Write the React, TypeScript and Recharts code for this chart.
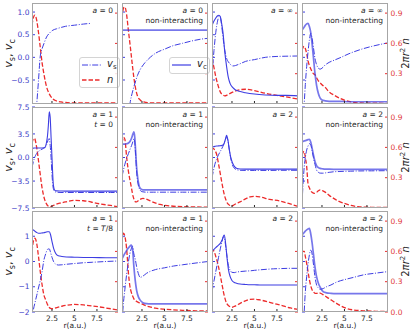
import React from 'react';
import { ComposedChart, Line, XAxis, YAxis, Legend } from 'recharts';

const BLUE = '#3d3de2';
const BLUE_TEXT = '#3c3cc8';
const RED = '#ec2b2b';
const RED_TEXT = '#e03a3a';
const SPINE = '#a6a6a6';
const INK = '#262626';
const FONT = '"DejaVu Sans", Verdana, sans-serif';

// ---- data (r in a.u.) ----

// row 1: a = 0 / a = inf
const r11 = [0.28, 0.45, 0.6, 0.8, 1.0, 1.2, 1.4, 1.6, 1.9, 2.2, 2.6, 3.0, 3.5, 4.0, 5.0, 6.0, 6.8, 8.0, 9.84];
const vs11 = [null, null, -1.6, -1.05, -0.52, 0.03, 0.19, 0.3, 0.45, 0.53, 0.6, 0.63, 0.66, 0.685, 0.71, 0.735, 0.75, null, null];
const n11 = [0.78, 0.86, 0.88, 0.83, 0.71, 0.56, 0.41, 0.3, 0.17, 0.1, 0.05, 0.03, 0.02, 0.015, 0.01, 0.01, 0.01, 0.01, 0.01];

const r12 = [0.28, 0.45, 0.6, 0.8, 1.0, 1.2, 1.4, 1.6, 1.8, 2.0, 2.3, 2.7, 3.2, 4.0, 5.0, 6.0, 7.0, 8.0, 9.0, 9.84];
const vs12 = [null, null, null, null, -1.3, -0.98, -0.8, -0.65, -0.52, -0.4, -0.27, -0.15, -0.04, 0.09, 0.18, 0.26, 0.31, 0.36, 0.4, 0.42];
const vc12 = [0.6, 0.6, 0.6, 0.6, 0.6, 0.6, 0.6, 0.6, 0.6, 0.6, 0.6, 0.6, 0.6, 0.6, 0.6, 0.6, 0.6, 0.6, 0.6, 0.6];
const n12 = [0.85, 0.95, 0.96, 0.88, 0.72, 0.57, 0.41, 0.26, 0.15, 0.08, 0.04, 0.02, 0.012, 0.01, 0.01, 0.01, 0.01, 0.01, 0.01, 0.01];

const r13 = [0.28, 0.5, 0.7, 0.9, 1.05, 1.2, 1.35, 1.5, 1.7, 1.9, 2.1, 2.3, 2.6, 2.9, 3.3, 4.0, 5.0, 6.2, 7.5, 8.5, 9.84];
const vs13 = [-0.4, 0.15, 0.55, 0.8, 0.9, 0.88, 0.7, 0.45, 0.16, -0.02, -0.1, -0.15, -0.19, -0.18, -0.15, -0.09, -0.05, 0.0, 0.02, 0.025, 0.03];
const vc13 = [0.7, 0.8, 0.87, 0.92, 0.93, 0.9, 0.75, 0.55, 0.12, -0.2, -0.45, -0.58, -0.67, -0.72, -0.75, -0.78, -0.81, -0.83, -0.84, -0.84, -0.85];
const n13 = [0.45, 0.36, 0.27, 0.2, 0.155, 0.12, 0.1, 0.09, 0.08, 0.085, 0.095, 0.105, 0.118, 0.13, 0.14, 0.146, 0.132, 0.106, 0.085, 0.07, 0.05];

const r14 = [0.28, 0.4, 0.53, 0.65, 0.8, 0.95, 1.1, 1.25, 1.4, 1.55, 1.72, 1.9, 2.1, 2.3, 2.5, 2.85, 3.3, 3.9, 4.5, 5.5, 6.9, 8.4, 9.84];
const vs14 = [null, -1.6, -1.02, -0.6, -0.2, 0.12, 0.38, 0.53, 0.42, 0.22, -0.02, -0.16, -0.24, -0.26, -0.24, -0.17, -0.11, -0.06, -0.01, 0.08, 0.18, 0.26, 0.32];
const vc14 = [0.6, 0.63, 0.67, 0.71, 0.74, 0.75, 0.68, 0.55, 0.3, 0.0, -0.35, -0.62, -0.8, -0.9, -0.94, -0.96, -0.97, -0.97, -0.97, -0.98, -0.98, -0.98, -0.98];
const n14 = [0.53, 0.56, 0.57, 0.55, 0.5, 0.43, 0.38, 0.35, 0.32, 0.3, 0.29, 0.26, 0.23, 0.21, 0.19, 0.165, 0.12, 0.085, 0.056, 0.025, 0.01, 0.008, 0.006];

// row 2: t = 0
const r21 = [0.28, 0.4, 0.55, 0.8, 1.1, 1.4, 1.7, 1.9, 2.0, 2.1, 2.2, 2.3, 2.4, 2.5, 2.65, 2.8, 3.0, 3.5, 4.0, 5.0, 6.0, 7.5, 9.0, 9.84];
const vs21 = [-1.5, -0.8, -0.1, 0.6, 1.0, 1.25, 1.45, 1.9, 2.3, 2.7, 2.8, 1.8, 0.0, -2.5, -4.6, -5.05, -5.15, -5.2, -5.2, -5.2, -5.2, -5.2, -5.2, -5.2];
const vc21 = [1.37, 1.38, 1.4, 1.4, 1.4, 1.42, 1.5, 2.3, 3.2, 4.8, 6.8, 6.0, 3.0, 0.0, -4.0, -4.85, -4.95, -4.98, -5.0, -5.0, -5.0, -5.0, -5.0, -5.0];
const n21 = [0.64, 0.68, 0.69, 0.6, 0.4, 0.2, 0.08, 0.04, 0.025, 0.018, 0.013, 0.013, 0.015, 0.018, 0.025, 0.03, 0.038, 0.05, 0.06, 0.075, 0.072, 0.046, 0.025, 0.013];

const r22 = [0.28, 0.45, 0.6, 0.8, 1.0, 1.2, 1.35, 1.5, 1.6, 1.7, 1.8, 1.9, 2.05, 2.2, 2.4, 2.6, 2.9, 3.3, 3.8, 4.5, 5.5, 7.0, 8.5, 9.84];
const vs22 = [-2.8, -1.8, -1.0, -0.1, 0.6, 1.3, 1.8, 2.4, 2.8, 2.2, 0.3, -2.0, -3.8, -4.6, -5.0, -5.1, -5.15, -5.15, -5.15, -5.15, -5.15, -5.15, -5.15, -5.15];
const vc22 = [2.0, 2.0, 2.0, 2.05, 2.15, 2.45, 2.9, 3.5, 3.8, 3.0, 0.8, -1.4, -3.3, -4.3, -4.7, -4.8, -4.82, -4.82, -4.82, -4.82, -4.82, -4.82, -4.82, -4.82];
const n22 = [0.64, 0.7, 0.68, 0.5, 0.36, 0.26, 0.19, 0.12, 0.09, 0.07, 0.06, 0.06, 0.07, 0.08, 0.09, 0.095, 0.09, 0.075, 0.055, 0.035, 0.022, 0.013, 0.01, 0.008];

const r23 = [0.28, 0.43, 0.6, 0.8, 1.0, 1.2, 1.4, 1.6, 1.75, 1.9, 2.05, 2.2, 2.35, 2.5, 2.7, 3.0, 3.4, 4.0, 4.5, 5.0, 5.6, 6.7, 7.8, 8.8, 9.84];
const vs23 = [-3.0, -2.0, -1.0, -0.2, 0.4, 0.9, 1.4, 2.0, 2.6, 3.0, 2.5, 1.2, 0.0, -0.9, -1.5, -1.8, -1.9, -1.92, -1.92, -1.92, -1.92, -1.92, -1.9, -1.9, -1.9];
const vc23 = [1.55, 1.6, 1.65, 1.7, 1.72, 1.75, 1.8, 2.0, 2.6, 3.3, 2.6, 1.2, 0.1, -0.6, -1.2, -1.6, -1.7, -1.72, -1.72, -1.72, -1.72, -1.72, -1.72, -1.72, -1.72];
const n23 = [0.57, 0.59, 0.57, 0.53, 0.44, 0.34, 0.24, 0.15, 0.1, 0.065, 0.04, 0.03, 0.022, 0.02, 0.03, 0.045, 0.06, 0.09, 0.11, 0.115, 0.11, 0.085, 0.07, 0.045, 0.015];

const r24 = [0.28, 0.4, 0.53, 0.65, 0.8, 0.95, 1.1, 1.25, 1.4, 1.55, 1.72, 1.9, 2.1, 2.3, 2.6, 2.9, 3.3, 3.8, 4.4, 5.0, 5.7, 6.5, 8.0, 9.84];
const vs24 = [-7.0, -3.8, -1.35, 0.0, 1.1, 1.7, 2.05, 1.9, 1.0, 0.0, -1.0, -1.86, -2.2, -2.32, -2.33, -2.28, -2.2, -2.12, -2.08, -2.05, -2.03, -2.0, -1.98, -1.96];
const vc24 = [2.35, 2.4, 2.45, 2.5, 2.58, 2.65, 2.7, 2.3, 1.4, 0.4, -0.6, -1.2, -1.5, -1.62, -1.68, -1.72, -1.74, -1.75, -1.75, -1.75, -1.75, -1.75, -1.75, -1.75];
const n24 = [0.52, 0.55, 0.56, 0.5, 0.41, 0.24, 0.2, 0.17, 0.155, 0.148, 0.145, 0.155, 0.17, 0.18, 0.17, 0.155, 0.125, 0.095, 0.065, 0.045, 0.027, 0.013, 0.007, 0.005];

// row 3: t = T/8
const r31 = [0.28, 0.43, 0.6, 0.8, 1.0, 1.2, 1.4, 1.6, 1.8, 2.0, 2.2, 2.35, 2.5, 2.7, 2.9, 3.2, 3.6, 4.1, 5.0, 6.0, 7.0, 8.5, 9.84];
const vs31 = [-2.3, -1.92, -1.65, -1.35, -1.05, -0.75, -0.4, 0.05, 0.3, 0.48, 0.5, 0.35, 0.17, -0.02, -0.1, -0.14, -0.13, -0.11, -0.08, -0.05, -0.03, 0.0, 0.02];
const vc31 = [1.27, 1.25, 1.2, 1.15, 1.12, 1.12, 1.13, 1.14, 1.16, 1.18, 1.18, 1.05, 0.8, 0.5, 0.33, 0.23, 0.2, 0.18, 0.17, 0.16, 0.16, 0.15, 0.15];
const n31 = [0.6, 0.7, 0.73, 0.68, 0.55, 0.4, 0.27, 0.17, 0.12, 0.075, 0.045, 0.035, 0.032, 0.035, 0.04, 0.048, 0.057, 0.066, 0.075, 0.07, 0.06, 0.04, 0.02];

const r32 = [0.28, 0.45, 0.6, 0.8, 1.0, 1.15, 1.3, 1.45, 1.6, 1.75, 1.9, 2.1, 2.3, 2.6, 3.0, 3.5, 4.0, 5.0, 6.0, 7.0, 8.5, 9.84];
const vs32 = [-2.4, -1.6, -1.1, -0.5, 0.0, 0.3, 0.5, 0.6, 0.3, 0.1, -0.2, -0.48, -0.63, -0.58, -0.47, -0.38, -0.32, -0.25, -0.18, -0.13, -0.06, 0.0];
const vc32 = [0.1, 0.22, 0.32, 0.44, 0.54, 0.6, 0.65, 0.5, -0.2, -0.75, -1.13, -1.4, -1.53, -1.63, -1.67, -1.68, -1.68, -1.68, -1.68, -1.68, -1.68, -1.68];
const n32 = [0.7, 0.78, 0.75, 0.62, 0.38, 0.26, 0.2, 0.16, 0.13, 0.115, 0.105, 0.095, 0.088, 0.075, 0.06, 0.048, 0.038, 0.028, 0.022, 0.017, 0.012, 0.01];

const r33 = [0.28, 0.43, 0.7, 1.0, 1.2, 1.4, 1.55, 1.65, 1.8, 1.95, 2.1, 2.3, 2.5, 2.75, 3.0, 3.4, 4.0, 4.5, 5.0, 5.6, 6.3, 7.1, 8.0, 9.0, 9.84];
const vs33 = [-1.2, -0.9, -0.4, 0.15, 0.5, 0.8, 0.97, 0.95, 0.6, 0.2, -0.15, -0.35, -0.43, -0.44, -0.42, -0.4, -0.38, -0.37, -0.35, -0.33, -0.31, -0.29, -0.28, -0.27, -0.27];
const vc33 = [0.42, 0.46, 0.55, 0.65, 0.72, 0.85, 1.0, 1.05, 0.7, 0.15, -0.3, -0.6, -0.75, -0.83, -0.86, -0.89, -0.91, -0.92, -0.92, -0.93, -0.93, -0.93, -0.93, -0.93, -0.93];
const n33 = [0.58, 0.61, 0.55, 0.45, 0.36, 0.27, 0.2, 0.16, 0.11, 0.08, 0.065, 0.052, 0.047, 0.055, 0.065, 0.086, 0.11, 0.125, 0.127, 0.12, 0.105, 0.086, 0.065, 0.04, 0.025];

const r34 = [0.28, 0.4, 0.53, 0.65, 0.8, 0.95, 1.1, 1.25, 1.4, 1.55, 1.72, 1.9, 2.1, 2.3, 2.65, 3.0, 3.5, 4.1, 5.2, 6.0, 7.1, 8.5, 9.84];
const vs34 = [-4.0, -2.9, -1.96, -1.2, -0.6, -0.1, 0.26, 0.45, 0.3, -0.1, -0.6, -0.93, -1.05, -1.1, -1.07, -1.0, -0.93, -0.82, -0.7, -0.63, -0.53, -0.46, -0.4];
const vc34 = [1.05, 1.1, 1.15, 1.2, 1.25, 1.29, 1.31, 1.1, 0.75, 0.3, -0.21, -0.6, -0.86, -1.02, -1.2, -1.24, -1.26, -1.27, -1.27, -1.27, -1.27, -1.27, -1.27];
const n34 = [0.58, 0.6, 0.6, 0.55, 0.48, 0.4, 0.32, 0.26, 0.22, 0.2, 0.185, 0.185, 0.19, 0.188, 0.17, 0.15, 0.12, 0.086, 0.036, 0.02, 0.012, 0.007, 0.005];

// axes
const xDomain = [0.28, 9.84];
const xTicks = [2.5, 5, 7.5];
const xTickText = ['2.5', '5', '7.5'];
const vDomains = [[-1.03, 1.2], [-7.5, 7.5], [-2, 2]];
const vTicks = [[-0.5, 0, 0.5, 1.0], [-7.5, -3.5, 0, 3.5, 7.5], [-2, -1, 0, 1]];
const vTickText = [['−0.5', '0.0', '0.5', '1.0'], ['−7.5', '−3.5', '0.0', '3.5', '7.5'], ['−2', '−1', '0', '1']];
const nTicks = [[0.3, 0.6, 0.9], [0.3, 0.6, 0.9], [0, 0.3, 0.6, 0.9]];
const nTickText = [['0.3', '0.6', '0.9'], ['0.3', '0.6', '0.9'], ['0.0', '0.3', '0.6', '0.9']];

const panels = [
  { row: 0, col: 0, r: r11, vs: vs11, vc: null, n: n11, a: '0', note: null, legend: 'sn' },
  { row: 0, col: 1, r: r12, vs: vs12, vc: vc12, n: n12, a: '0', note: 'non', legend: 'c' },
  { row: 0, col: 2, r: r13, vs: vs13, vc: vc13, n: n13, a: '∞', note: null },
  { row: 0, col: 3, r: r14, vs: vs14, vc: vc14, n: n14, a: '∞', note: 'non' },
  { row: 1, col: 0, r: r21, vs: vs21, vc: vc21, n: n21, a: '1', note: 't0' },
  { row: 1, col: 1, r: r22, vs: vs22, vc: vc22, n: n22, a: '1', note: 'non' },
  { row: 1, col: 2, r: r23, vs: vs23, vc: vc23, n: n23, a: '2', note: null },
  { row: 1, col: 3, r: r24, vs: vs24, vc: vc24, n: n24, a: '2', note: 'non' },
  { row: 2, col: 0, r: r31, vs: vs31, vc: vc31, n: n31, a: '1', note: 't8' },
  { row: 2, col: 1, r: r32, vs: vs32, vc: vc32, n: n32, a: '1', note: 'non' },
  { row: 2, col: 2, r: r33, vs: vs33, vc: vc33, n: n33, a: '2', note: null },
  { row: 2, col: 3, r: r34, vs: vs34, vc: vc34, n: n34, a: '2', note: 'non' },
];

// layout
const COL_LEFT = [32, 122, 212, 302];
const ROW_TOP = [3, 107, 211];
const PW = 86;
const PH = 101;
const AX_L = 30;
const AX_R = 26;
const AX_B = 24;
const PAD_T = 6; // room above the plot so top tick labels are not cut

const DASH_S = '6 1.6 1 1.6';
const DASH_N = '4.5 2';

const VTick = (props: any) => {
  const { x, y, payload, show, ticks, labels } = props;
  const label = labels[ticks.indexOf(payload.value)];
  return (
    <g>
      <line x1={x} x2={x + 3} y1={y} y2={y} stroke={BLUE} strokeWidth={1} />
      {show && (
        <text x={x - 2.5} y={y + 2.7} textAnchor="end" fontSize={7.5} fontFamily={FONT} fill={BLUE_TEXT}>
          {label}
        </text>
      )}
    </g>
  );
};

const NTick = (props: any) => {
  const { x, y, payload, show, ticks, labels } = props;
  const label = labels[ticks.indexOf(payload.value)];
  return (
    <g>
      <line x1={x} x2={x - 3} y1={y} y2={y} stroke={RED} strokeWidth={1} />
      {show && (
        <text x={x + 2.5} y={y + 2.7} textAnchor="start" fontSize={7.5} fontFamily={FONT} fill={RED_TEXT}>
          {label}
        </text>
      )}
    </g>
  );
};

const XTick = (props: any) => {
  const { x, y, payload, show } = props;
  const label = xTickText[xTicks.indexOf(payload.value)];
  return (
    <g>
      <line x1={x} x2={x} y1={y} y2={y - 3} stroke={INK} strokeWidth={1} />
      {show && (
        <text x={x} y={y + 8.5} textAnchor="middle" fontSize={7.5} fontFamily={FONT} fill={INK}>
          {label}
        </text>
      )}
    </g>
  );
};

const LegendSwatch = ({ color, dash, width }: any) => (
  <svg width={19} height={6} style={{ display: 'block' }}>
    <line x1={0} x2={19} y1={3} y2={3} stroke={color} strokeWidth={width} strokeDasharray={dash} />
  </svg>
);

const LegendBox = ({ kind }: { kind: string }) => {
  const rows =
    kind === 'sn'
      ? [
          { key: 'vs', color: BLUE, dash: DASH_S, width: 1, label: <span><i>v</i><span style={{ fontSize: 7, verticalAlign: -2 }}>s</span></span> },
          { key: 'n', color: RED, dash: DASH_N, width: 1.3, label: <i>n</i> },
        ]
      : [{ key: 'vc', color: BLUE, dash: undefined, width: 1.2, label: <span><i>v</i><span style={{ fontSize: 7, verticalAlign: -2 }}>c</span></span> }];
  return (
    <div
      style={{
        boxSizing: 'border-box',
        width: 41,
        background: 'rgba(255,255,255,0.85)',
        border: '1px solid #d4d4d4',
        borderRadius: 3,
        padding: '0 2px',
        fontFamily: FONT,
        color: INK,
      }}
    >
      {rows.map((row) => (
        <div key={row.key} style={{ display: 'flex', alignItems: 'center', height: 14.5 }}>
          <LegendSwatch color={row.color} dash={row.dash} width={row.width} />
          <span style={{ marginLeft: 6, fontSize: 10, lineHeight: '10px' }}>{row.label}</span>
        </div>
      ))}
    </div>
  );
};

const Panel = ({ p }: { p: any }) => {
  const data = p.r.map((r: number, i: number) => ({
    r,
    vs: p.vs[i],
    vc: p.vc ? p.vc[i] : null,
    n: p.n[i],
  }));
  const left = COL_LEFT[p.col] - AX_L;
  const top = ROW_TOP[p.row] - PAD_T;
  const nonInt = p.note === 'non';
  return (
    <div style={{ position: 'absolute', left, top }}>
      <ComposedChart
        width={AX_L + PW + AX_R}
        height={PAD_T + PH + AX_B}
        data={data}
        margin={{ top: PAD_T, right: 0, bottom: 0, left: 0 }}
      >
        <XAxis
          dataKey="r"
          type="number"
          domain={xDomain}
          allowDataOverflow
          ticks={xTicks}
          interval={0}
          height={AX_B}
          tickSize={0}
          tickMargin={0}
          axisLine={false}
          tickLine={false}
          tick={(t: any) => <XTick {...t} show={p.row === 2} />}
        />
        <YAxis
          yAxisId="v"
          orientation="left"
          width={AX_L}
          domain={vDomains[p.row]}
          allowDataOverflow
          ticks={vTicks[p.row]}
          interval={0}
          tickSize={0}
          tickMargin={0}
          axisLine={false}
          tickLine={false}
          tick={(t: any) => (
            <VTick {...t} show={p.col === 0} ticks={vTicks[p.row]} labels={vTickText[p.row]} />
          )}
        />
        <YAxis
          yAxisId="n"
          orientation="right"
          width={AX_R}
          domain={[0, 1]}
          allowDataOverflow
          ticks={nTicks[p.row]}
          interval={0}
          tickSize={0}
          tickMargin={0}
          axisLine={false}
          tickLine={false}
          tick={(t: any) => (
            <NTick {...t} show={p.col === 3} ticks={nTicks[p.row]} labels={nTickText[p.row]} />
          )}
        />
        <Line
          yAxisId="n"
          dataKey="n"
          type="monotone"
          stroke={RED}
          strokeWidth={1.3}
          strokeDasharray={DASH_N}
          dot={false}
          isAnimationActive={false}
        />
        {p.vc && (
          <Line
            yAxisId="v"
            dataKey="vc"
            type="monotone"
            stroke={BLUE}
            strokeWidth={nonInt ? 1.7 : 1.1}
            strokeOpacity={nonInt ? 0.7 : 1}
            dot={false}
            isAnimationActive={false}
          />
        )}
        <Line
          yAxisId="v"
          dataKey="vs"
          type="monotone"
          stroke={BLUE}
          strokeWidth={1}
          strokeDasharray={DASH_S}
          dot={false}
          isAnimationActive={false}
        />
        {p.legend && (
          <Legend
            layout="horizontal"
            align="center"
            verticalAlign="middle"
            width={41}
            wrapperStyle={{ left: 77, top: 54 + PAD_T, width: 41 }}
            content={() => <LegendBox kind={p.legend} />}
          />
        )}
      </ComposedChart>
    </div>
  );
};

const PanelNotes = ({ p }: { p: any }) => {
  const right = COL_LEFT[p.col] + PW - 5;
  const top = ROW_TOP[p.row];
  let second: any = null;
  if (p.note === 'non') second = 'non-interacting';
  if (p.note === 't0') second = (<><tspan fontStyle="italic">t</tspan>{' = 0'}</>);
  if (p.note === 't8') second = (<><tspan fontStyle="italic">t</tspan>{' = '}<tspan fontStyle="italic">T</tspan>{'/8'}</>);
  return (
    <g fontFamily={FONT} fill={INK} fontSize={7.5} textAnchor="end">
      <text x={right} y={top + 10}>
        <tspan fontStyle="italic">a</tspan>
        {' = ' + p.a}
      </text>
      {second && (
        <text x={right} y={top + 19.5}>
          {second}
        </text>
      )}
    </g>
  );
};

export default function App() {
  return (
    <div style={{ position: 'absolute', left: 0, top: 0, width: 416, height: 331, background: '#fff', overflow: 'hidden' }}>
      {panels.map((p) => (
        <Panel key={`${p.row}-${p.col}`} p={p} />
      ))}
      <svg width={416} height={331} style={{ position: 'absolute', left: 0, top: 0, pointerEvents: 'none' }}>
        {panels.map((p) => (
          <rect
            key={`f-${p.row}-${p.col}`}
            x={COL_LEFT[p.col] + 0.5}
            y={ROW_TOP[p.row] + 0.5}
            width={PW - 1}
            height={PH - 1}
            fill="none"
            stroke={SPINE}
            strokeWidth={1}
          />
        ))}
        {panels.map((p) => (
          <PanelNotes key={`t-${p.row}-${p.col}`} p={p} />
        ))}
        {ROW_TOP.map((t, i) => (
          <g key={`yl-${i}`} fontFamily={FONT} fill={INK}>
            <text transform={`translate(12, ${t + PH / 2}) rotate(-90)`} textAnchor="middle" fontSize={11}>
              <tspan fontStyle="italic">v</tspan>
              <tspan fontSize={8} dy={2.5}>s</tspan>
              <tspan dy={-2.5}>{', '}</tspan>
              <tspan fontStyle="italic">v</tspan>
              <tspan fontSize={8} dy={2.5}>c</tspan>
            </text>
            <text transform={`translate(409, ${t + PH / 2}) rotate(-90)`} textAnchor="middle" fontSize={10}>
              <tspan>2</tspan>
              <tspan fontStyle="italic">πr</tspan>
              <tspan fontSize={7} dy={-4}>2</tspan>
              <tspan fontStyle="italic" dy={4}>{' n'}</tspan>
            </text>
          </g>
        ))}
        {COL_LEFT.map((l, i) => (
          <text key={`xl-${i}`} x={l + PW / 2} y={328} textAnchor="middle" fontSize={7.5} fontFamily={FONT} fill={INK}>
            r(a.u.)
          </text>
        ))}
      </svg>
    </div>
  );
}
